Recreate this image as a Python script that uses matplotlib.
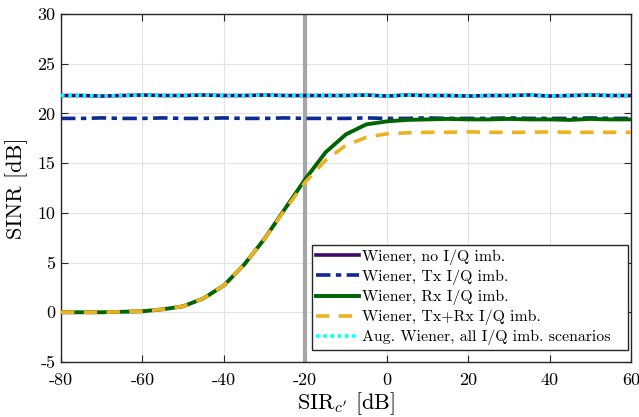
import numpy as np
import matplotlib.pyplot as plt

plt.rcParams['font.family'] = 'serif'
plt.rcParams['font.serif'] = ['cmr10']
plt.rcParams['mathtext.fontset'] = 'cm'
plt.rcParams['axes.unicode_minus'] = False
plt.rcParams['axes.formatter.use_mathtext'] = False

sir = [-80, -75, -70, -65, -60, -55, -50, -45, -40, -35, -30, -25, -20, -15, -10, -5,
       0, 5, 10, 15, 20, 25, 30, 35, 40, 45, 50, 55, 60]

wiener_no = [21.8, 21.8, 21.75, 21.8, 21.85, 21.8, 21.8, 21.85, 21.8, 21.8, 21.85, 21.8, 21.8, 21.8,
             21.8, 21.85, 21.75, 21.85, 21.8, 21.8, 21.75, 21.8, 21.8, 21.85, 21.75, 21.8, 21.85, 21.8, 21.8]
wiener_tx = [19.5, 19.5, 19.55, 19.5, 19.5, 19.55, 19.5, 19.5, 19.55, 19.5, 19.5, 19.55, 19.5, 19.5,
             19.5, 19.55, 19.5, 19.5, 19.55, 19.5, 19.5, 19.5, 19.55, 19.5, 19.5, 19.5, 19.55, 19.5, 19.5]
wiener_rx = [0.0, 0.0, 0.0, 0.05, 0.1, 0.3, 0.6, 1.4, 2.7, 4.8, 7.4, 10.4, 13.4, 16.1, 17.9, 18.9,
             19.2, 19.35, 19.4, 19.45, 19.4, 19.4, 19.45, 19.4, 19.4, 19.35, 19.45, 19.4, 19.4]
wiener_txrx = [0.0, 0.0, 0.0, 0.05, 0.1, 0.3, 0.6, 1.4, 2.7, 4.8, 7.4, 10.3, 13.1, 15.3, 16.8, 17.6,
               17.95, 18.05, 18.1, 18.1, 18.15, 18.1, 18.1, 18.1, 18.15, 18.1, 18.1, 18.1, 18.1]
aug_wiener = wiener_no

fig = plt.figure(figsize=(6.39, 4.17), dpi=100)
ax = fig.add_axes([0.0955, 0.1319, 0.892, 0.8345])

ax.axvline(-20, color='#a6a6a6', lw=3, zorder=1)
ax.plot(sir, wiener_no, color='#3d0a6b', lw=2.6, label='Wiener, no I/Q imb.', zorder=3)
ax.plot(sir, wiener_tx, color='#0b2a94', lw=2.6, ls=(0, (4, 1.5, 1.5, 1.5)), label='Wiener, Tx I/Q imb.', zorder=3)
ax.plot(sir, wiener_rx, color='#006400', lw=2.8, label='Wiener, Rx I/Q imb.', zorder=3)
ax.plot(sir, wiener_txrx, color='#edb120', lw=2.6, ls=(0, (3.7, 2.6)), label='Wiener, Tx+Rx I/Q imb.', zorder=4)
ax.plot(sir, aug_wiener, color='#00ffff', lw=2.6, ls=(0, (1, 1)), label='Aug. Wiener, all I/Q imb. scenarios', zorder=4)

ax.set_xlim(-80, 60)
ax.set_ylim(-5, 30)
ax.set_xticks(np.arange(-80, 61, 20))
ax.set_yticks(np.arange(-5, 31, 5))
ax.grid(True, color='#e3e3e3', lw=0.8)
ax.set_axisbelow(True)
ax.tick_params(direction='in', top=True, right=True, labelsize=13, length=5, color='#262626')
ax.tick_params(axis='x', pad=8)
ax.tick_params(axis='y', pad=4)
for s in ax.spines.values():
    s.set_color('#262626')
    s.set_linewidth(1.0)

ax.set_xlabel(r"SIR$_{c'}$ [dB]", fontsize=16, labelpad=1)
ax.set_ylabel('SINR [dB]', fontsize=16, labelpad=7)

# MATLAB-style legend box: extra space right of the text
leg = ax.legend(loc='lower left', bbox_to_anchor=(0.4398, 0.0345, 0.555, 0.2), mode='expand',
                fontsize=11.4, handlelength=2.7, handletextpad=0.17, borderpad=0.3,
                labelspacing=0.29, fancybox=False, framealpha=1, edgecolor='#262626',
                borderaxespad=0)
leg.get_frame().set_linewidth(1.0)

fig.savefig('out.png', dpi=100)
